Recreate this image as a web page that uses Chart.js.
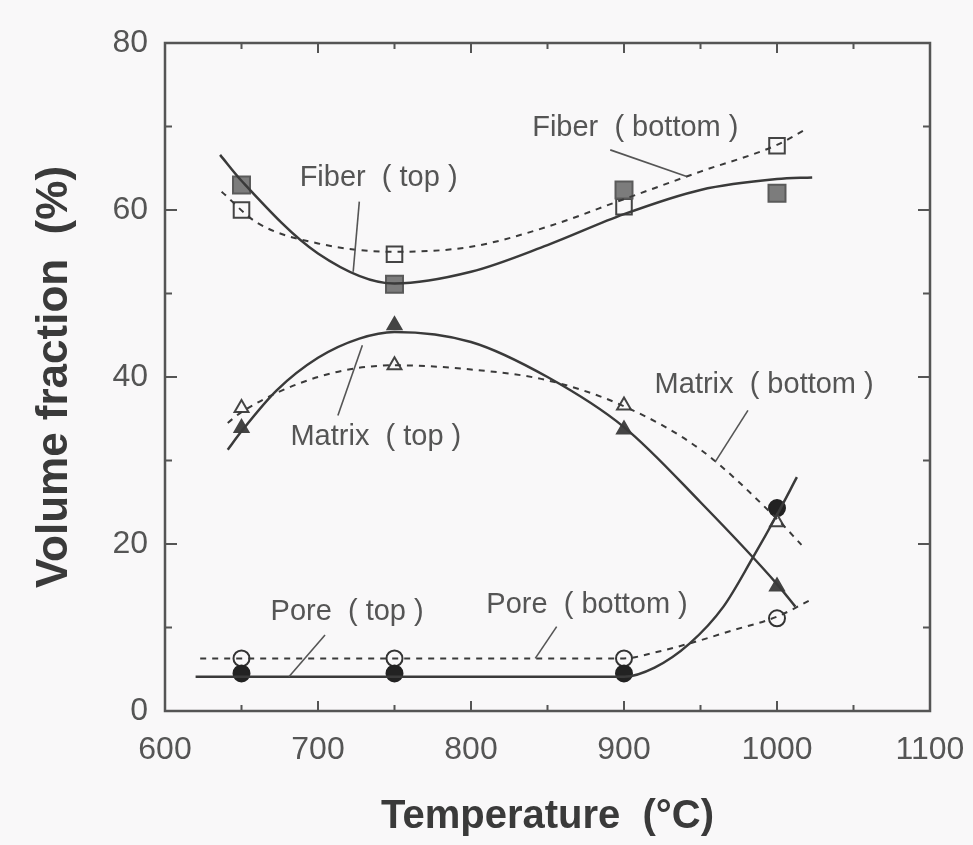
<!DOCTYPE html>
<html>
<head>
<meta charset="utf-8">
<script src="https://cdn.jsdelivr.net/npm/chart.js@4/dist/chart.umd.min.js"></script>
<style>
    html, body { margin: 0; padding: 0; background: #f9f8f9; }
    #wrap { width: 973px; height: 845px; }
</style>
</head>
<body>
<div id="wrap"><canvas id="chart" width="973" height="845"></canvas></div>
<script>
// measured points
const temps = [650, 750, 900, 1000];
const fiberTop = [63.0, 51.1, 62.4, 62.0];
const fiberBottom = [60.0, 54.7, 60.4, 67.7];
const matrixTop = [33.9, 46.2, 33.7, 14.9];
const matrixBottom = [36.3, 41.4, 36.6, 22.6];
const poreTop = [4.5, 4.5, 4.5, 24.3];
const poreBottom = [6.3, 6.3, 6.3, 11.1];

// fitted curves
const fiberTopCurveT = [636, 650, 700, 750, 800, 850, 900, 950, 1000, 1023];
const fiberTopCurve = [66.6, 63.5, 54.8, 51.2, 52.6, 55.8, 59.5, 62.4, 63.7, 63.9];
const fiberBottomCurveT = [637, 660, 700, 750, 800, 850, 900, 950, 1000, 1020];
const fiberBottomCurve = [62.2, 58.5, 56.0, 55.0, 55.6, 58.0, 61.3, 64.6, 67.8, 69.8];
const matrixTopCurveT = [641, 650, 673, 700, 727, 750, 800, 850, 900, 950, 1000, 1012];
const matrixTopCurve = [31.3, 33.5, 38.4, 42.3, 44.6, 45.4, 44.2, 40.0, 34.0, 25.0, 15.2, 12.5];
const matrixBottomCurveT = [641, 650, 700, 750, 800, 850, 900, 950, 1000, 1016];
const matrixBottomCurve = [34.5, 35.8, 40.0, 41.4, 40.9, 39.6, 36.5, 31.3, 23.0, 19.9];
const poreTopCurveT = [620, 650, 750, 900, 920, 943, 965, 984, 1000, 1013];
const poreTopCurve = [4.1, 4.1, 4.1, 4.1, 5.2, 8.1, 12.5, 18.3, 23.5, 28.0];
const poreBottomCurveT = [623, 650, 750, 900, 920, 943, 970, 1000, 1022];
const poreBottomCurve = [6.3, 6.3, 6.3, 6.3, 7.0, 8.1, 9.6, 11.3, 13.3];

const xTicks = [600, 700, 800, 900, 1000, 1100];
const yTicks = [0, 20, 40, 60, 80];

// label text, anchor (data units) and leader line (data units)
const notes = [
    { text: 'Fiber  ( top )', x: 688, y: 63.8, line: [727, 61.0, 723, 52.6] },
    { text: 'Fiber  ( bottom )', x: 840, y: 69.8, line: [891, 67.2, 941, 64.0] },
    { text: 'Matrix  ( top )', x: 682, y: 32.8, line: [713, 35.4, 729, 43.8] },
    { text: 'Matrix  ( bottom )', x: 920, y: 39.0, line: [981, 36.0, 959.5, 29.8] },
    { text: 'Pore  ( top )', x: 669, y: 11.9, line: [704.6, 9.1, 681, 4.1] },
    { text: 'Pore  ( bottom )', x: 810, y: 12.7, line: [856, 10.1, 842, 6.3] },
];

const fontFamily = '"Liberation Sans", Arial, Helvetica, sans-serif';
const ink = '#3a3a3a';
const grey = '#555';

function pairs(xs, ys) {
    return xs.map((x, i) => ({ x, y: ys[i] }));
}

function curve(xs, ys, dashed) {
    return {
        data: pairs(xs, ys),
        showLine: true,
        borderColor: ink,
        borderWidth: dashed ? 2 : 2.5,
        borderDash: dashed ? [6, 6] : [],
        pointRadius: 0,
        cubicInterpolationMode: 'monotone',
        fill: false,
    };
}

function marks(ys, style, radius, fill, border) {
    return {
        data: pairs(temps, ys),
        showLine: false,
        pointStyle: style,
        pointRadius: radius,
        pointBackgroundColor: fill,
        pointBorderColor: border,
        pointBorderWidth: 2,
    };
}

const frameAndNotes = {
    id: 'frameAndNotes',
    afterDatasetsDraw(chart) {
        const { ctx, chartArea: a, scales: { x, y } } = chart;
        ctx.save();
        ctx.strokeStyle = grey;
        ctx.lineWidth = 2.5;
        ctx.strokeRect(a.left, a.top, a.right - a.left, a.bottom - a.top);

        // inward ticks on all four sides
        ctx.lineWidth = 2;
        for (let v = 650; v < 1100; v += 50) {
            const px = x.getPixelForValue(v);
            const len = v % 100 === 0 ? 10 : 6;
            ctx.beginPath();
            ctx.moveTo(px, a.bottom);
            ctx.lineTo(px, a.bottom - len);
            ctx.moveTo(px, a.top);
            ctx.lineTo(px, a.top + len);
            ctx.stroke();
        }
        for (let v = 10; v < 80; v += 10) {
            const py = y.getPixelForValue(v);
            const len = v % 20 === 0 ? 12 : 7;
            ctx.beginPath();
            ctx.moveTo(a.left, py);
            ctx.lineTo(a.left + len, py);
            ctx.moveTo(a.right, py);
            ctx.lineTo(a.right - len, py);
            ctx.stroke();
        }

        ctx.font = '29px ' + fontFamily;
        ctx.fillStyle = grey;
        ctx.textAlign = 'left';
        ctx.textBaseline = 'middle';
        ctx.lineWidth = 1.6;
        notes.forEach((n) => {
            ctx.fillText(n.text, x.getPixelForValue(n.x), y.getPixelForValue(n.y));
            const [x1, y1, x2, y2] = n.line;
            ctx.beginPath();
            ctx.moveTo(x.getPixelForValue(x1), y.getPixelForValue(y1));
            ctx.lineTo(x.getPixelForValue(x2), y.getPixelForValue(y2));
            ctx.stroke();
        });
        ctx.restore();
    },
};

new Chart(document.getElementById('chart'), {
    type: 'scatter',
    data: {
        datasets: [
            curve(fiberTopCurveT, fiberTopCurve, false),
            curve(fiberBottomCurveT, fiberBottomCurve, true),
            curve(matrixTopCurveT, matrixTopCurve, false),
            curve(matrixBottomCurveT, matrixBottomCurve, true),
            curve(poreTopCurveT, poreTopCurve, false),
            curve(poreBottomCurveT, poreBottomCurve, true),
            marks(fiberTop, 'rect', 12, '#7c7c7c', '#5a5a5a'),
            marks(fiberBottom, 'rect', 11, '#f9f8f9', '#444'),
            marks(matrixTop, 'triangle', 8, '#444', '#444'),
            marks(matrixBottom, 'triangle', 8, '#f9f8f9', '#444'),
            marks(poreTop, 'circle', 8, '#222', '#222'),
            marks(poreBottom, 'circle', 8, '#f9f8f9', '#333'),
        ],
    },
    options: {
        responsive: false,
        animation: false,
        layout: { padding: { top: 43, right: 43, left: 0, bottom: 0 } },
        plugins: {
            legend: { display: false },
            tooltip: { enabled: false },
        },
        scales: {
            x: {
                type: 'linear',
                min: 600,
                max: 1100,
                afterBuildTicks: (scale) => { scale.ticks = xTicks.map((value) => ({ value })); },
                afterFit: (scale) => {
                    scale.height = 134;
                    scale.paddingLeft = 0;
                    scale.paddingRight = 0;
                },
                grid: { display: false, drawTicks: false },
                border: { display: false },
                ticks: {
                    color: grey,
                    padding: 20,
                    maxRotation: 0,
                    callback: (value) => String(value),
                    font: { family: fontFamily, size: 32 },
                },
                title: {
                    display: true,
                    text: 'Temperature  (°C)',
                    color: ink,
                    padding: { top: 0, bottom: 4 },
                    font: { family: fontFamily, size: 40, weight: 'bold' },
                },
            },
            y: {
                type: 'linear',
                min: 0,
                max: 80,
                afterBuildTicks: (scale) => { scale.ticks = yTicks.map((value) => ({ value })); },
                afterFit: (scale) => {
                    scale.width = 165;
                    scale.paddingTop = 0;
                    scale.paddingBottom = 0;
                },
                grid: { display: false, drawTicks: false },
                border: { display: false },
                ticks: {
                    color: grey,
                    padding: 17,
                    callback: (value) => String(value),
                    font: { family: fontFamily, size: 32 },
                },
                title: {
                    display: true,
                    text: 'Volume fraction  (%)',
                    color: ink,
                    padding: { top: 28, bottom: 0 },
                    font: { family: fontFamily, size: 44, weight: 'bold' },
                },
            },
        },
    },
    plugins: [frameAndNotes],
});
</script>
</body>
</html>
